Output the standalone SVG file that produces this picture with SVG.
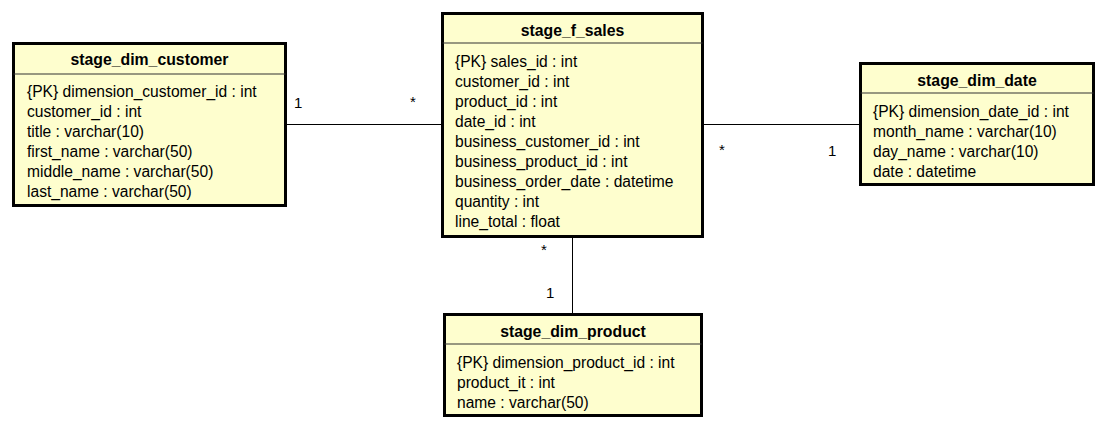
<svg xmlns="http://www.w3.org/2000/svg" width="1108" height="429" viewBox="0 0 1108 429">
<style>
.box{fill:#FEFECE;stroke:#000;stroke-width:3}
.sep{stroke:#333;stroke-width:1}
.t{font-family:"Liberation Sans",Arial,sans-serif;font-size:15.8px;font-weight:bold;text-anchor:middle;fill:#000}
.r{font-family:"Liberation Sans",Arial,sans-serif;font-size:15.6px;fill:#000}
.c{stroke:#000;stroke-width:1;fill:none}
.m{font-family:"Liberation Sans",Arial,sans-serif;font-size:15px;fill:#000}
</style>
<rect width="1108" height="429" fill="#fff"/>
<g id="connectors">
<line class="c" x1="286" y1="124.5" x2="442" y2="124.5"/>
<line class="c" x1="704" y1="124.5" x2="861" y2="124.5"/>
<line class="c" x1="572.5" y1="237" x2="572.5" y2="313"/>
<text class="m" x="294" y="108">1</text>
<text class="m" x="410" y="107">*</text>
<text class="m" x="719" y="155">*</text>
<text class="m" x="828" y="156">1</text>
<text class="m" x="541" y="255">*</text>
<text class="m" x="546" y="298">1</text>
</g>
<g id="stage_dim_customer">
<rect class="box" x="13.5" y="43.5" width="272" height="162"/>
<line class="sep" x1="13.5" y1="74" x2="285.5" y2="74"/>
<text class="t" x="149.5" y="65">stage_dim_customer</text>
<text class="r" x="27" y="96.5">{PK} dimension_customer_id : int</text>
<text class="r" x="27" y="116.5">customer_id : int</text>
<text class="r" x="27" y="136.5">title : varchar(10)</text>
<text class="r" x="27" y="156.5">first_name : varchar(50)</text>
<text class="r" x="27" y="176.5">middle_name : varchar(50)</text>
<text class="r" x="27" y="196.5">last_name : varchar(50)</text>
</g>
<g id="stage_f_sales">
<rect class="box" x="442.5" y="13.5" width="260" height="223"/>
<line class="sep" x1="442.5" y1="43" x2="702.5" y2="43"/>
<text class="t" x="572.5" y="36">stage_f_sales</text>
<text class="r" x="455" y="66.5">{PK} sales_id : int</text>
<text class="r" x="455" y="86.5">customer_id : int</text>
<text class="r" x="455" y="106.5">product_id : int</text>
<text class="r" x="455" y="126.5">date_id : int</text>
<text class="r" x="455" y="146.5">business_customer_id : int</text>
<text class="r" x="455" y="166.5">business_product_id : int</text>
<text class="r" x="455" y="186.5">business_order_date : datetime</text>
<text class="r" x="455" y="206.5">quantity : int</text>
<text class="r" x="455" y="226.5">line_total : float</text>
</g>
<g id="stage_dim_date">
<rect class="box" x="860.5" y="63.5" width="233" height="121"/>
<line class="sep" x1="860.5" y1="93" x2="1093.5" y2="93"/>
<text class="t" x="977" y="86">stage_dim_date</text>
<text class="r" x="873" y="116.5">{PK} dimension_date_id : int</text>
<text class="r" x="873" y="136.5">month_name : varchar(10)</text>
<text class="r" x="873" y="156.5">day_name : varchar(10)</text>
<text class="r" x="873" y="176.5">date : datetime</text>
</g>
<g id="stage_dim_product">
<rect class="box" x="444.5" y="314.5" width="257" height="101"/>
<line class="sep" x1="444.5" y1="344" x2="701.5" y2="344"/>
<text class="t" x="573" y="337">stage_dim_product</text>
<text class="r" x="457" y="367.5">{PK} dimension_product_id : int</text>
<text class="r" x="457" y="387.5">product_it : int</text>
<text class="r" x="457" y="407.5">name : varchar(50)</text>
</g>
</svg>
